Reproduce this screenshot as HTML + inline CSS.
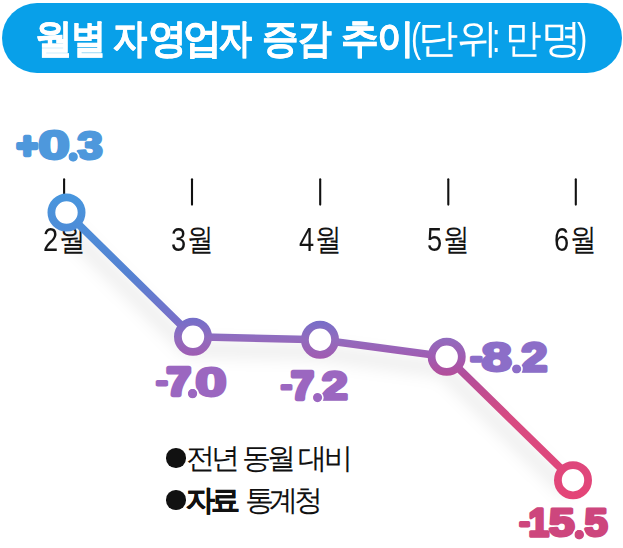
<!DOCTYPE html>
<html><head><meta charset="utf-8">
<style>
html,body{margin:0;padding:0;background:#fff;}
body{width:623px;height:548px;position:relative;overflow:hidden;font-family:"Liberation Sans",sans-serif;}
.hdr{position:absolute;left:1.5px;top:3px;width:620.5px;height:70px;border-radius:35px;background:#08a0e9;}
.title{position:absolute;left:0;top:14.5px;color:#fff;font-size:40px;white-space:nowrap;line-height:46px;}
.tw{position:absolute;top:0;transform-origin:0 0;}
.tw.b{font-weight:bold;-webkit-text-stroke:0.5px #fff;}
.tw.r{font-weight:normal;}
.mon{position:absolute;top:220px;font-size:31px;line-height:38px;color:#151515;white-space:nowrap;transform:translateX(-50%) scaleX(0.86);}
.mon s{text-decoration:none;}
.mon i{font-style:normal;display:inline-block;font-size:33px;transform:scaleX(0.96);margin-right:0px;position:relative;top:1px;}
.leg{position:absolute;left:166px;font-size:29px;line-height:34px;color:#111;white-space:nowrap;letter-spacing:-3.3px;}
.leg b{-webkit-text-stroke:0.3px #111;}
.dot{display:inline-block;width:19.5px;height:19.5px;border-radius:50%;background:#111;margin-right:0px;vertical-align:0.5px;}
</style></head><body>
<div class="hdr"></div>
<div class="title" id="title"><span class="tw b" style="left:34.5px;transform:scaleX(0.944)">월</span><span class="tw b" style="left:70.8px;transform:scaleX(0.881)">별</span><span class="tw b" style="left:113.2px;transform:scaleX(0.856)">자</span><span class="tw b" style="left:148.0px;transform:scaleX(0.976)">영</span><span class="tw b" style="left:182.8px;transform:scaleX(0.973)">업</span><span class="tw b" style="left:218.6px;transform:scaleX(0.823)">자</span><span class="tw b" style="left:261.8px;transform:scaleX(0.911)">증</span><span class="tw b" style="left:298.3px;transform:scaleX(0.841)">감</span><span class="tw b" style="left:341.1px;transform:scaleX(0.942)">추</span><span class="tw b" style="left:376.9px;transform:scaleX(0.938)">이</span><span class="tw r" style="left:411.3px;transform:scaleX(0.760)">(</span><span class="tw r" style="left:417.8px;transform:scaleX(1.000)">단</span><span class="tw r" style="left:456.8px;transform:scaleX(1.032)">위</span><span class="tw r" style="left:492.0px;transform:scaleX(0.750)">:</span><span class="tw r" style="left:505.0px;transform:scaleX(0.914)">만</span><span class="tw r" style="left:541.2px;transform:scaleX(1.017)">명</span><span class="tw r" style="left:576.5px;transform:scaleX(0.770)">)</span></div>
<svg width="623" height="548" style="position:absolute;left:0;top:0">
<g stroke="#111" stroke-width="2.1" stroke-linecap="round">
<line x1="64.1" y1="179.2" x2="64.1" y2="204.6"/>
<line x1="192.0" y1="179.2" x2="192.0" y2="204.6"/>
<line x1="320.2" y1="179.2" x2="320.2" y2="204.6"/>
<line x1="448.3" y1="179.2" x2="448.3" y2="204.6"/>
<line x1="575.8" y1="179.2" x2="575.8" y2="204.6"/>
</g>
</svg>
<div class="mon" id="m2" style="left:63.7px"><i>2</i><s>월</s></div>
<div class="mon" id="m3" style="left:192.2px"><i>3</i><s>월</s></div>
<div class="mon" id="m4" style="left:319.8px"><i>4</i><s>월</s></div>
<div class="mon" id="m5" style="left:447.6px"><i>5</i><s>월</s></div>
<div class="mon" id="m6" style="left:575.3px"><i>6</i><s>월</s></div>
<svg width="623" height="548" style="position:absolute;left:0;top:0">
<defs>
<linearGradient id="g" gradientUnits="userSpaceOnUse" x1="0" y1="195" x2="0" y2="500">
<stop offset="0" stop-color="#4896de"/>
<stop offset="0.056" stop-color="#4b91da"/>
<stop offset="0.262" stop-color="#5582d2"/>
<stop offset="0.344" stop-color="#6978cd"/>
<stop offset="0.416" stop-color="#786ec8"/>
<stop offset="0.469" stop-color="#916cbe"/>
<stop offset="0.531" stop-color="#a05cb2"/>
<stop offset="0.587" stop-color="#b24e9b"/>
<stop offset="0.731" stop-color="#d74b82"/>
<stop offset="0.934" stop-color="#e1467a"/>
<stop offset="1" stop-color="#e44476"/>
</linearGradient>
<filter id="sh" x="-30%" y="-30%" width="160%" height="160%"><feGaussianBlur stdDeviation="8"/></filter>
</defs>
<polyline points="62.5,224.5 189,348.8 316,351.7 442.7,368.8 569,492.2" fill="none" stroke="rgba(0,0,0,0.075)" stroke-width="14" stroke-linejoin="round" filter="url(#sh)"/>
<polyline points="66.5,212.5 193,336.8 320,339.7 446.7,356.8 573,480.2" fill="none" stroke="url(#g)" stroke-width="7.6" stroke-linejoin="round"/>
<g fill="#fff" stroke="url(#g)" stroke-width="7.8">
<circle cx="66.5" cy="212.5" r="15.1"/>
<circle cx="193" cy="336.8" r="15.1"/>
<circle cx="320" cy="339.7" r="15.1"/>
<circle cx="446.7" cy="356.8" r="15.1"/>
<circle cx="573" cy="480.2" r="15.1"/>
</g>
</svg>
<svg width="623" height="548" style="position:absolute;left:0;top:0" font-family="Liberation Sans" font-weight="bold" font-size="40" stroke-linejoin="round">
<g fill="#4e98dc" stroke="#4e98dc">
<text transform="matrix(0.890 0 0 0.885 16.63 157.97)" stroke-width="5.0">+</text>
<text transform="matrix(1.416 0 0 1.006 38.14 159.30)" stroke-width="2.8">0</text>
<text transform="matrix(0.370 0 0 0.366 71.10 158.04)" stroke-width="20.0">.</text>
<text transform="matrix(1.145 0 0 0.975 77.37 159.10)" stroke-width="3.0">3</text>
</g>
<circle cx="73.15" cy="156.95" r="5.55" fill="none" stroke="#fff" stroke-width="1.6"/>
<g fill="#9b67c0" stroke="#9b67c0">
<text transform="matrix(0.846 0 0 0.691 156.18 391.36)" stroke-width="4.5">-</text>
<text transform="matrix(1.079 0 0 0.962 166.67 395.14)" stroke-width="4.5">7</text>
<text transform="matrix(0.370 0 0 0.366 190.50 394.64)" stroke-width="20.0">.</text>
<text transform="matrix(1.416 0 0 1.012 195.34 395.69)" stroke-width="2.8">0</text>
</g>
<circle cx="192.55" cy="393.55" r="5.55" fill="none" stroke="#fff" stroke-width="1.6"/>
<g fill="#9b67c0" stroke="#9b67c0">
<text transform="matrix(0.819 0 0 0.712 280.96 394.99)" stroke-width="4.5">-</text>
<text transform="matrix(1.010 0 0 0.959 291.14 398.94)" stroke-width="4.5">7</text>
<text transform="matrix(0.351 0 0 0.366 315.56 398.64)" stroke-width="20.0">.</text>
<text transform="matrix(1.164 0 0 0.977 321.72 399.39)" stroke-width="3.5">2</text>
</g>
<circle cx="317.50" cy="397.55" r="5.42" fill="none" stroke="#fff" stroke-width="1.6"/>
<g fill="#8c6ec8" stroke="#8c6ec8">
<text transform="matrix(0.867 0 0 0.734 470.60 367.11)" stroke-width="4.5">-</text>
<text transform="matrix(1.362 0 0 1.009 481.48 371.39)" stroke-width="2.8">8</text>
<text transform="matrix(0.359 0 0 0.354 514.61 370.06)" stroke-width="20.0">.</text>
<text transform="matrix(1.169 0 0 0.999 521.32 371.45)" stroke-width="3.5">2</text>
</g>
<circle cx="516.60" cy="369.00" r="5.40" fill="none" stroke="#fff" stroke-width="1.6"/>
<g fill="#cd467d" stroke="#cd467d">
<text transform="matrix(0.764 0 0 0.691 519.53 531.66)" stroke-width="4.5">-</text>
<text transform="matrix(0.923 0 0 0.983 528.39 536.38)" stroke-width="3.5">1</text>
<text transform="matrix(1.147 0 0 0.980 549.12 536.15)" stroke-width="3.2">5</text>
<text transform="matrix(0.374 0 0 0.381 577.13 535.79)" stroke-width="20.0">.</text>
<text transform="matrix(1.043 0 0 0.980 584.39 536.15)" stroke-width="3.2">5</text>
</g>
<circle cx="579.20" cy="534.65" r="5.67" fill="none" stroke="#fff" stroke-width="1.6"/>
</svg>
<div class="leg" id="l1" style="top:441px"><span class="dot" id="d1"></span><span id="t1">전년 동월 대비</span></div>
<div class="leg" id="l2" style="top:483px;word-spacing:3px"><span class="dot" id="d2"></span><span id="t2"><b>자료</b> <span style="letter-spacing:-4.3px">통계청</span></span></div>
</body></html>
